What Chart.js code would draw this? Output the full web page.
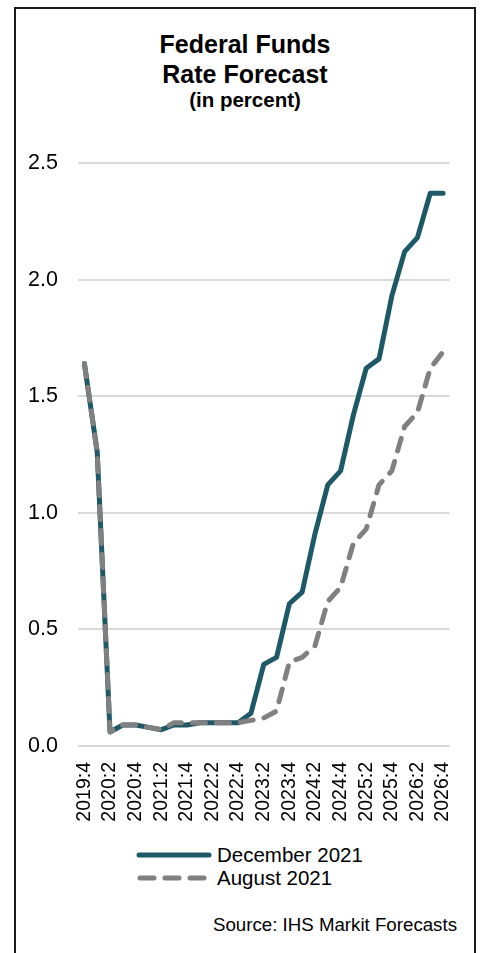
<!DOCTYPE html>
<html>
<head>
<meta charset="utf-8">
<script src="https://cdn.jsdelivr.net/npm/chart.js@4.4.1/dist/chart.umd.min.js"></script>
<style>
  html, body { margin: 0; padding: 0; background: #fff; }
  body { width: 483px; height: 953px; position: relative; overflow: hidden; font-family: "Liberation Sans", Arial, sans-serif; color: #000; }
  #frame { position: absolute; left: 14px; top: 7px; width: 458px; height: 980px; border: 2px solid #1a1a1a; }
  #wrap { position: absolute; left: 0; top: 0; width: 483px; height: 840px; }
  .title { position: absolute; left: 15px; width: 460px; text-align: center; font-weight: bold; white-space: nowrap; }
  #t1 { top: 29px; font-size: 25px; line-height: 30px; }
  #t2 { top: 88px; font-size: 20.5px; line-height: 24px; }
  .legend { position: absolute; left: 136px; font-size: 20.5px; line-height: 23px; }
  .legend div { display: flex; align-items: center; height: 23px; }
  .legend svg { margin-right: 3px; }
  #source { position: absolute; right: 26px; top: 914px; font-size: 18.7px; }
</style>
</head>
<body>
<div id="frame"></div>
<div class="title" id="t1">Federal Funds<br>Rate Forecast</div>
<div class="title" id="t2">(in percent)</div>
<div id="wrap"><canvas id="chart"></canvas></div>
<div class="legend" style="top: 843px;">
  <div><svg width="78" height="10"><line x1="3" y1="5" x2="73" y2="5" stroke="#1E5967" stroke-width="5" stroke-linecap="round"/></svg>December 2021</div>
  <div><svg width="78" height="10"><line x1="4" y1="5" x2="73" y2="5" stroke="#808080" stroke-width="5" stroke-linecap="round" stroke-dasharray="14 11"/></svg>August 2021</div>
</div>
<div id="source">Source: IHS Markit Forecasts</div>
<script>
// quarters 2019:4 .. 2026:4
const quarters = [
  '2019:4',
  '2020:1', '2020:2', '2020:3', '2020:4',
  '2021:1', '2021:2', '2021:3', '2021:4',
  '2022:1', '2022:2', '2022:3', '2022:4',
  '2023:1', '2023:2', '2023:3', '2023:4',
  '2024:1', '2024:2', '2024:3', '2024:4',
  '2025:1', '2025:2', '2025:3', '2025:4',
  '2026:1', '2026:2', '2026:3', '2026:4'
]

const dec2021 = [
  1.64,
  1.26, 0.06, 0.09, 0.09,
  0.08, 0.07, 0.09, 0.09,
  0.10, 0.10, 0.10, 0.10,
  0.14, 0.35, 0.38, 0.61,
  0.66, 0.91, 1.12, 1.18,
  1.42, 1.62, 1.66, 1.93,
  2.12, 2.18, 2.37, 2.37
]

const aug2021 = [
  1.64,
  1.26, 0.06, 0.09, 0.09,
  0.08, 0.07, 0.10, 0.10,
  0.10, 0.10, 0.10, 0.10,
  0.11, 0.12, 0.15, 0.36,
  0.38, 0.43, 0.62, 0.68,
  0.87, 0.93, 1.12, 1.18,
  1.37, 1.43, 1.62, 1.69
]

const yTicks = [0, 0.5, 1.0, 1.5, 2.0, 2.5]

const FONT = '"Liberation Sans", Arial, sans-serif'

new Chart(document.getElementById('chart'), {
  type: 'line',
  data: {
    labels: quarters,
    datasets: [
      {
        label: 'December 2021',
        data: dec2021,
        borderColor: '#1E5967',
        borderWidth: 5,
        borderCapStyle: 'round',
        borderJoinStyle: 'round',
        pointRadius: 0,
        tension: 0,
        order: 1
      },
      {
        label: 'August 2021',
        data: aug2021,
        borderColor: '#808080',
        borderWidth: 5,
        borderDash: [13, 11],
        borderCapStyle: 'round',
        borderJoinStyle: 'round',
        pointRadius: 0,
        tension: 0,
        order: 0
      }
    ]
  },
  options: {
    responsive: true,
    maintainAspectRatio: false,
    animation: false,
    layout: { padding: { left: 28, right: 31, top: 163, bottom: 14 } },
    plugins: {
      legend: { display: false },
      tooltip: { enabled: false }
    },
    scales: {
      x: {
        offset: true,
        grid: { display: false, drawTicks: false },
        border: { display: false },
        afterFit: (s) => { s.height = 80 },
        ticks: {
          autoSkip: false,
          minRotation: 90,
          maxRotation: 90,
          padding: 16,
          color: '#000',
          font: { family: FONT, size: 19.5 },
          callback: (v, i) => (i % 2 === 0 ? quarters[i] : '')
        }
      },
      y: {
        min: 0,
        max: 2.5,
        afterFit: (s) => { s.width = 50 },
        afterBuildTicks: (s) => { s.ticks = yTicks.map(v => ({ value: v })) },
        grid: { color: '#D9D9D9', lineWidth: 2, drawTicks: false },
        border: { display: false },
        ticks: {
          padding: 20,
          color: '#000',
          font: { family: FONT, size: 21.5 },
          callback: (v) => Number(v).toFixed(1)
        }
      }
    }
  }
})
</script>
</body>
</html>
